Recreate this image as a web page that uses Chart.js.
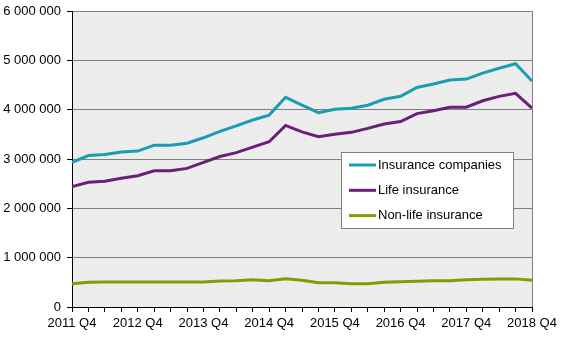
<!DOCTYPE html>
<html>
<head>
<meta charset="utf-8">
<script src="https://cdn.jsdelivr.net/npm/chart.js@4/dist/chart.umd.min.js"></script>
<style>
  html, body { margin: 0; padding: 0; background: #fff; }
  #wrap { width: 567px; height: 340px; }
</style>
</head>
<body>
<div id="wrap"><canvas id="chart" width="567" height="340"></canvas></div>
<script>
// quarters 2011 Q4 .. 2018 Q4
const quarters = [
  '2011 Q4', '2012 Q1', '2012 Q2', '2012 Q3', '2012 Q4', '2013 Q1', '2013 Q2', '2013 Q3',
  '2013 Q4', '2014 Q1', '2014 Q2', '2014 Q3', '2014 Q4', '2015 Q1', '2015 Q2', '2015 Q3',
  '2015 Q4', '2016 Q1', '2016 Q2', '2016 Q3', '2016 Q4', '2017 Q1', '2017 Q2', '2017 Q3',
  '2017 Q4', '2018 Q1', '2018 Q2', '2018 Q3', '2018 Q4'
];

const insuranceCompanies = [
  2930000, 3070000, 3090000, 3140000, 3160000, 3280000, 3280000, 3320000,
  3430000, 3560000, 3670000, 3790000, 3890000, 4250000, 4090000, 3940000,
  4010000, 4030000, 4090000, 4210000, 4270000, 4450000, 4520000, 4600000,
  4620000, 4740000, 4840000, 4930000, 4580000
];

const lifeInsurance = [
  2440000, 2530000, 2550000, 2610000, 2660000, 2760000, 2760000, 2810000,
  2930000, 3050000, 3130000, 3240000, 3350000, 3680000, 3550000, 3450000,
  3500000, 3540000, 3620000, 3710000, 3760000, 3920000, 3980000, 4050000,
  4050000, 4180000, 4270000, 4330000, 4030000
];

const nonLifeInsurance = [
  470000, 500000, 505000, 507000, 507000, 507000, 507000, 507000,
  507000, 525000, 530000, 550000, 530000, 570000, 540000, 490000,
  490000, 470000, 470000, 500000, 510000, 520000, 530000, 530000,
  550000, 560000, 570000, 570000, 540000
];

const yTicks = [0, 1000000, 2000000, 3000000, 4000000, 5000000, 6000000];

const FONT = "'Liberation Sans', Arial, sans-serif";

function fmt(v) {
  return String(v).replace(/\B(?=(\d{3})+(?!\d))/g, ' ');
}

// plot background (faint dotted grey) + right border
const backdrop = {
  id: 'backdrop',
  beforeDraw(chart) {
    const { ctx, chartArea: a } = chart;
    const tile = document.createElement('canvas');
    tile.width = 4; tile.height = 4;
    const t = tile.getContext('2d');
    t.fillStyle = '#eeeeee';
    t.fillRect(0, 0, 4, 4);
    t.fillStyle = '#e2e2e2';
    t.fillRect(0, 0, 1, 1);
    t.fillRect(2, 2, 1, 1);
    ctx.save();
    ctx.fillStyle = ctx.createPattern(tile, 'repeat');
    ctx.fillRect(a.left, a.top, a.right - a.left, a.bottom - a.top);
    ctx.restore();
  },
  afterDatasetsDraw(chart) {
    const { ctx, chartArea: a } = chart;
    ctx.save();
    ctx.strokeStyle = '#808080';
    ctx.lineWidth = 1;
    ctx.beginPath();
    ctx.moveTo(Math.round(a.right) + 0.5, a.top);
    ctx.lineTo(Math.round(a.right) + 0.5, a.bottom);
    ctx.stroke();
    ctx.restore();
  }
};

// boxed legend inside the plot area
const boxLegend = {
  id: 'boxLegend',
  afterDraw(chart) {
    const { ctx } = chart;
    const x = 341, y = 152, w = 172, h = 76;
    ctx.save();
    ctx.fillStyle = '#fff';
    ctx.fillRect(x, y, w, h);
    ctx.strokeStyle = '#808080';
    ctx.lineWidth = 1;
    ctx.strokeRect(x + 0.5, y + 0.5, w, h);
    ctx.font = '13px ' + FONT;
    ctx.textBaseline = 'middle';
    chart.data.datasets.forEach((ds, i) => {
      const ly = y + 13 + i * 25.3;
      ctx.strokeStyle = ds.borderColor;
      ctx.lineWidth = 3;
      ctx.beginPath();
      ctx.moveTo(x + 8, ly);
      ctx.lineTo(x + 35, ly);
      ctx.stroke();
      ctx.fillStyle = '#000';
      ctx.fillText(ds.label, x + 37, ly);
    });
    ctx.restore();
  }
};

new Chart(document.getElementById('chart'), {
  type: 'line',
  data: {
    labels: quarters,
    datasets: [
      { label: 'Insurance companies', data: insuranceCompanies, borderColor: '#1a9db2' },
      { label: 'Life insurance', data: lifeInsurance, borderColor: '#6b1f79' },
      { label: 'Non-life insurance', data: nonLifeInsurance, borderColor: '#7f9e00' }
    ]
  },
  options: {
    responsive: false,
    animation: false,
    layout: { padding: { top: 11, right: 35, left: 0, bottom: 0 } },
    elements: {
      line: { borderWidth: 3, tension: 0 },
      point: { radius: 0 }
    },
    plugins: {
      legend: { display: false },
      tooltip: { enabled: false }
    },
    scales: {
      x: {
        offset: false,
        grid: { drawOnChartArea: false, drawTicks: true, tickLength: 5, color: '#000' },
        border: { color: '#000' },
        ticks: {
          autoSkip: false,
          maxRotation: 0,
          color: '#000',
          font: { family: FONT, size: 13 },
          padding: 4,
          callback: (v, i) => (i % 4 === 0 ? quarters[i] : '')
        },
        afterFit: (s) => { s.height = 33; }
      },
      y: {
        min: 0,
        max: 6000000,
        afterBuildTicks: (s) => { s.ticks = yTicks.map(v => ({ value: v })); },
        grid: { color: '#808080', tickColor: '#000', tickLength: 5 },
        border: { color: '#000' },
        ticks: {
          color: '#000',
          font: { family: FONT, size: 13 },
          padding: 6,
          callback: (v) => fmt(v)
        },
        afterFit: (s) => { s.width = 72; s.paddingTop = 0; s.paddingBottom = 0; }
      }
    }
  },
  plugins: [backdrop, boxLegend]
});
</script>
</body>
</html>
